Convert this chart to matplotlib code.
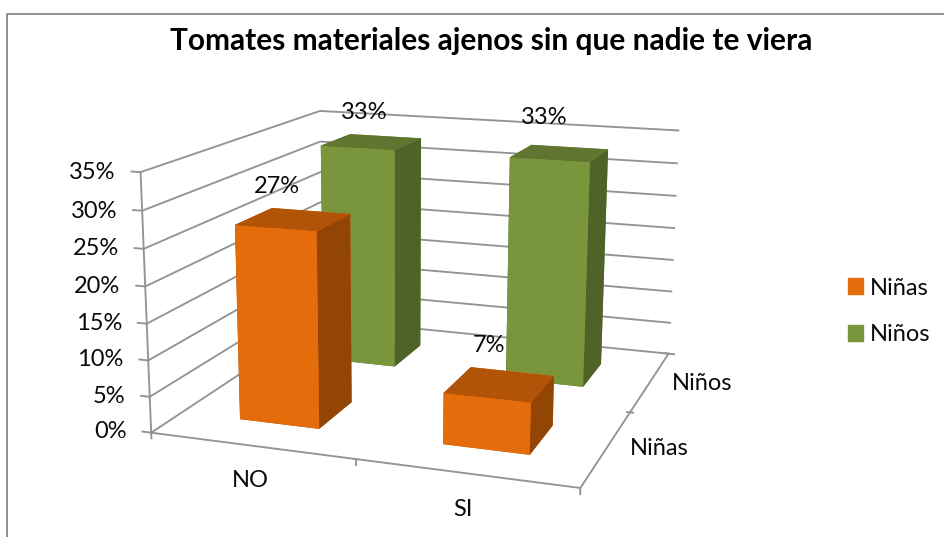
import numpy as np
import matplotlib
matplotlib.use("Agg")
import matplotlib.pyplot as plt
from matplotlib.lines import Line2D
from matplotlib.patches import Patch
from mpl_toolkits.mplot3d import proj3d

W, H = 945, 537

categories = ["NO", "SI"]
series_names = ["Niñas", "Niños"]
ninas = [27, 7]
ninos = [33, 33]
z_ticks = [0, 5, 10, 15, 20, 25, 30, 35]

# small nudges of the data labels: (x, z) for each bar
ninas_nudge = [(0, -0.55), (0.025, 0.4)]
ninos_nudge = [(0.04, -0.4), (-0.005, 0.3)]

orange = ["#b15408", "#b15408", "#e46c0a", "#e46c0a", "#924505", "#924505"]
green = ["#5f7530", "#5f7530", "#7a963d", "#7a963d", "#4f6228", "#4f6228"]
grid_col = "#939393"
text_col = "#0a0a0a"
fs = 17
plt.rcParams["font.family"] = ["Lato", "DejaVu Sans"]

fig = plt.figure(figsize=(W / 100, H / 100), dpi=100)
S, cx, cy = 414.2, 425.7, 277.7
ax = fig.add_axes([(cx - S / 2) / W, (H - cy - S / 2) / H, S / W, S / H], projection="3d")
ax.set_xlim(0, 2, view_margin=0)
ax.set_ylim(0, 2, view_margin=0)
ax.set_zlim(0, 35, view_margin=0)
ax.view_init(14.005, -71.311, -0.302)
ax.set_proj_type("persp", focal_length=0.6938)
ax.set_box_aspect((1, 1.0105, 0.6015), zoom=1.4902)
ax.set_xticks([])
ax.set_yticks([])
ax.set_zticks([])
ax.set_axis_off()
ax.patch.set_visible(False)
ax.computed_zorder = False

def line3(xs, ys, zs):
    ax.plot(xs, ys, zs, color=grid_col, lw=1.35, zorder=1, clip_on=False)

def label3(x, y, z, s, ha="center"):
    # projected once here so the text is a plain 2D text at its real place
    px, py, _ = proj3d.proj_transform(x, y, z, ax.get_proj())
    ax.text2D(px, py, s, transform=ax.transData, ha=ha, va="center", fontsize=fs, color=text_col, zorder=6)

# walls
for v in z_ticks:
    line3([0, 0, 2], [0, 2, 2], [v, v, v])
    line3([-0.045, 0], [0, 0], [v, v])
    label3(-0.125, 0, v - 0.3, "%d%%" % v, ha="right")
line3([0, 0], [0, 0], [0, 35])
line3([0, 2, 2, 2], [0, 0, 2, 2], [0, 0, 0, 0])
for i in range(3):
    line3([i, i], [0, 0], [0, -0.8])
line3([1.985, 2.015], [1, 1], [0, 0])
line3([1.98, 2.03], [2, 2], [0, 0])

# bars
bar_w = 0.4
for j, (vals, nudge) in enumerate([(ninos, ninos_nudge), (ninas, ninas_nudge)]):
    yy = 1.3 - j
    cols = green if j == 0 else orange
    for i, v in enumerate(vals):
        xx = i + 0.3
        b = ax.bar3d(xx, yy, 0, bar_w, bar_w, v, color=cols, shade=False, linewidth=0, zorder=3 + j)
        b.set_clip_on(False)
        label3(xx + 0.12 + nudge[i][0], yy + 0.2, v + 4.8 + nudge[i][1], "%d%%" % v)

for i, c in enumerate(categories):
    label3(i + 0.49, 0, -4.8, c)
label3(2.235, 0.5, 0.8, series_names[0])
label3(2.26, 1.5, 0.5, series_names[1])

fig.text(491.5 / W, 1 - 41 / H, "Tomates materiales ajenos sin que nadie te viera", ha="center", va="center",
         fontsize=21.5, fontweight="bold", color="#000000")

handles = [Patch(color="#e46c0a"), Patch(color="#7a963d")]
fig.legend(handles, series_names, loc="center left", bbox_to_anchor=(826.8 / W, 1 - 311.5 / H), frameon=False,
           fontsize=fs, handlelength=0.635, handleheight=0.635, handletextpad=0.3, labelspacing=1.1, labelcolor=text_col)

# chart frame, cut at the top and left only
fig.add_artist(Line2D([7.5 / W, 7.5 / W, 1], [0, 1 - 13.5 / H, 1 - 13.5 / H], color="#8f8f8f", lw=1.4))

fig.savefig("out.png", dpi=100)
